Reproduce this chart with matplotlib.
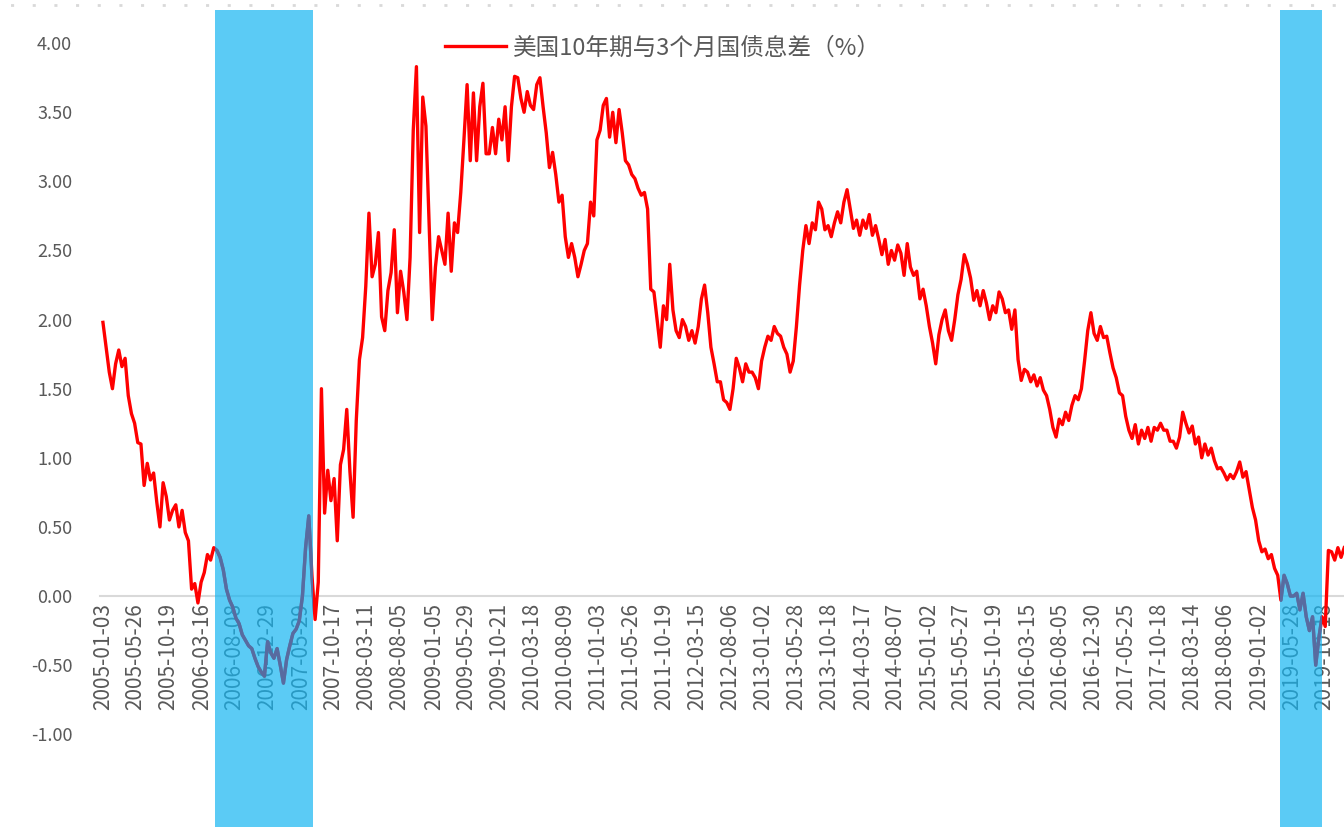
import matplotlib
matplotlib.use("Agg")
import matplotlib.pyplot as plt
from matplotlib.lines import Line2D
import numpy as np
import pandas as pd

plt.rcParams['font.family'] = ['Noto Sans CJK SC', 'DejaVu Sans']

# 美国10年期与3个月国债息差（%），每两周取一个读数，起点 2005-01-03
start_date = '2005-01-03'
spread = [
    1.98, 1.80, 1.62, 1.50, 1.68, 1.78, 1.66, 1.72, 1.45, 1.32,
    1.25, 1.11, 1.10, 0.80, 0.96, 0.84, 0.89, 0.68, 0.50, 0.82,
    0.72, 0.55, 0.62, 0.66, 0.50, 0.62, 0.46, 0.40, 0.05, 0.09,
    -0.05, 0.10, 0.17, 0.30, 0.26, 0.35, 0.33, 0.28, 0.19, 0.05,
    -0.03, -0.08, -0.16, -0.20, -0.28, -0.32, -0.36, -0.38, -0.45, -0.51,
    -0.55, -0.58, -0.33, -0.41, -0.45, -0.38, -0.50, -0.63, -0.46, -0.36,
    -0.27, -0.24, -0.18, 0.00, 0.35, 0.58, 0.15, -0.17, 0.10, 1.50,
    0.60, 0.91, 0.69, 0.85, 0.40, 0.95, 1.06, 1.35, 0.90, 0.57,
    1.27, 1.71, 1.87, 2.24, 2.77, 2.31, 2.40, 2.63, 2.02, 1.92,
    2.21, 2.34, 2.65, 2.05, 2.35, 2.20, 2.00, 2.45, 3.37, 3.83,
    2.63, 3.61, 3.40, 2.70, 2.00, 2.38, 2.60, 2.50, 2.40, 2.77,
    2.35, 2.70, 2.63, 2.92, 3.30, 3.70, 3.15, 3.64, 3.15, 3.54,
    3.71, 3.20, 3.20, 3.39, 3.20, 3.45, 3.30, 3.54, 3.15, 3.54,
    3.76, 3.75, 3.60, 3.50, 3.65, 3.55, 3.52, 3.70, 3.75, 3.54,
    3.35, 3.10, 3.21, 3.05, 2.85, 2.90, 2.60, 2.45, 2.55, 2.45,
    2.31, 2.40, 2.50, 2.55, 2.85, 2.75, 3.30, 3.37, 3.55, 3.60,
    3.32, 3.50, 3.28, 3.52, 3.35, 3.15, 3.12, 3.05, 3.02, 2.95,
    2.90, 2.92, 2.80, 2.22, 2.20, 2.00, 1.80, 2.10, 2.00, 2.40,
    2.07, 1.92, 1.87, 2.00, 1.95, 1.85, 1.92, 1.83, 1.95, 2.15,
    2.25, 2.05, 1.80, 1.68, 1.55, 1.55, 1.42, 1.40, 1.35, 1.50,
    1.72, 1.65, 1.55, 1.68, 1.62, 1.62, 1.58, 1.50, 1.70, 1.80,
    1.88, 1.85, 1.95, 1.90, 1.88, 1.80, 1.75, 1.62, 1.70, 1.95,
    2.25, 2.50, 2.68, 2.55, 2.70, 2.65, 2.85, 2.80, 2.65, 2.68,
    2.60, 2.70, 2.78, 2.70, 2.85, 2.94, 2.80, 2.66, 2.72, 2.61,
    2.72, 2.66, 2.76, 2.61, 2.68, 2.58, 2.47, 2.58, 2.40, 2.50,
    2.43, 2.54, 2.48, 2.32, 2.55, 2.38, 2.32, 2.35, 2.15, 2.22,
    2.10, 1.95, 1.83, 1.68, 1.89, 2.00, 2.07, 1.92, 1.85, 2.00,
    2.18, 2.29, 2.47, 2.40, 2.30, 2.14, 2.21, 2.10, 2.21, 2.12,
    2.00, 2.10, 2.05, 2.20, 2.15, 2.05, 2.07, 1.93, 2.07, 1.71,
    1.56, 1.64, 1.62, 1.55, 1.60, 1.52, 1.58, 1.49, 1.45, 1.35,
    1.22, 1.15, 1.28, 1.24, 1.33, 1.27, 1.38, 1.45, 1.42, 1.50,
    1.70, 1.92, 2.05, 1.90, 1.85, 1.95, 1.87, 1.88, 1.76, 1.65,
    1.58, 1.47, 1.45, 1.30, 1.20, 1.14, 1.24, 1.10, 1.20, 1.14,
    1.22, 1.12, 1.22, 1.20, 1.25, 1.20, 1.20, 1.12, 1.12, 1.07,
    1.15, 1.33, 1.25, 1.18, 1.23, 1.10, 1.15, 1.00, 1.10, 1.02,
    1.07, 0.98, 0.92, 0.93, 0.89, 0.84, 0.88, 0.85, 0.90, 0.97,
    0.86, 0.90, 0.77, 0.64, 0.55, 0.40, 0.32, 0.34, 0.27, 0.30,
    0.20, 0.15, -0.03, 0.15, 0.09, 0.00, 0.00, 0.02, -0.10, 0.02,
    -0.15, -0.25, -0.15, -0.50, -0.30, -0.15, -0.22, 0.33, 0.32, 0.26,
    0.35, 0.28, 0.35,
]

# 倒挂区间（蓝色阴影）
band_start = ['2006-05-13', '2019-04-04']
band_end = ['2007-07-20', '2019-10-05']

tick_dates = [
    '2005-01-03', '2005-05-26', '2005-10-19', '2006-03-16', '2006-08-08',
    '2006-12-29', '2007-05-29', '2007-10-17', '2008-03-11', '2008-08-05',
    '2009-01-05', '2009-05-29', '2009-10-21', '2010-03-18', '2010-08-09',
    '2011-01-03', '2011-05-26', '2011-10-19', '2012-03-15', '2012-08-06',
    '2013-01-02', '2013-05-28', '2013-10-18', '2014-03-17', '2014-08-07',
    '2015-01-02', '2015-05-27', '2015-10-19', '2016-03-15', '2016-08-05',
    '2016-12-30', '2017-05-25', '2017-10-18', '2018-03-14', '2018-08-06',
    '2019-01-02', '2019-05-28', '2019-10-18',
]
y_ticks = [-1.0, -0.5, 0.0, 0.5, 1.0, 1.5, 2.0, 2.5, 3.0, 3.5, 4.0]

dates = pd.date_range(start_date, periods=len(spread), freq='14D')
values = np.array(spread)

W, H = 1344, 827
fig = plt.figure(figsize=(W / 100, H / 100), dpi=100)
ax = fig.add_axes([100 / W, 0, (W - 100) / W, 1 - 10 / H])

gray = '#595959'
band_color = '#15B5F1'

ax.plot(dates, values, color='#FF0000', lw=2.4, zorder=2,
        label='美国10年期与3个月国债息差（%）')

for s, e in zip(band_start, band_end):
    span = ax.axvspan(pd.Timestamp(s), pd.Timestamp(e), color=band_color,
                      alpha=0.7, lw=0, zorder=3)
    inner, = ax.plot(dates, values, color='#586BA0', lw=2.4, zorder=4)
    inner.set_clip_path(span)

ax.set_xlim(pd.Timestamp('2004-12-21'), pd.Timestamp('2020-01-12'))
ax.set_ylim(-1.671, 4.24)

ax.set_yticks(y_ticks)
ax.set_yticklabels([f'{v:.2f}' for v in y_ticks])
ax.set_xticks([pd.Timestamp(d) for d in tick_dates])
ax.set_xticklabels(tick_dates)

ax.tick_params(axis='y', length=0, pad=20, labelsize=13, labelcolor=gray)
ax.tick_params(axis='x', length=0, pad=5, labelsize=15, labelcolor=gray,
               labelrotation=90)

for side in ['left', 'right', 'top']:
    ax.spines[side].set_visible(False)
ax.spines['bottom'].set_position(('data', 0))
ax.spines['bottom'].set_color('#D9D9D9')
ax.spines['bottom'].set_linewidth(1.5)
ax.spines['bottom'].set_zorder(1)

leg = ax.legend(handles=[ax.lines[0]], loc='center left',
                bbox_to_anchor=(445 / W, 1 - 48 / H),
                bbox_transform=fig.transFigure, frameon=False,
                fontsize=17, handlelength=2.6, handletextpad=0.3,
                borderpad=0, borderaxespad=0)
for t in leg.get_texts():
    t.set_color(gray)
leg.set_zorder(5)

# 顶部虚线边框
fig.add_artist(Line2D([0, 1], [1 - 5 / H, 1 - 5 / H], transform=fig.transFigure,
                      color='#D9D9D9', lw=2, linestyle=(4, (1.1, 6.7))))

fig.savefig('out.png', dpi=100)
